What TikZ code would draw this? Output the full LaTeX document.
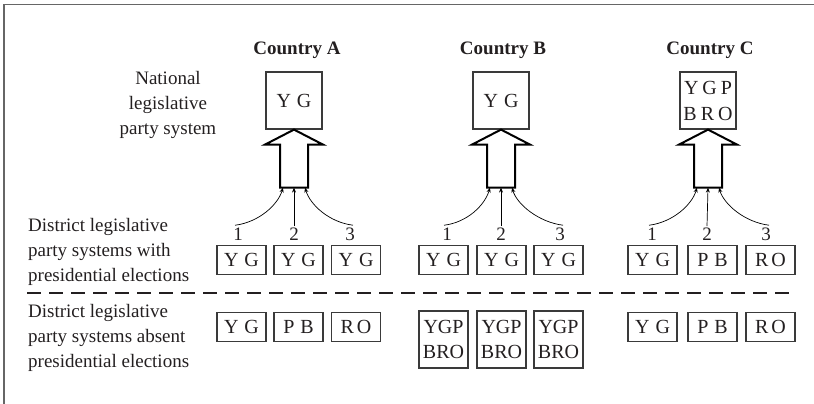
\documentclass[tikz,border=0pt]{standalone}
\usepackage{fontspec}
\setmainfont{Liberation Serif}
\usetikzlibrary{arrows.meta,calc}
\definecolor{ink}{HTML}{231F20}
\definecolor{boxc}{HTML}{3A3A3A}
\definecolor{framec}{HTML}{666666}
\begin{document}
\begin{tikzpicture}[x=1pt,y=-1pt,
  every node/.style={font=\fontsize{19}{25}\selectfont, text=ink},
  pbox/.style={draw=boxc, line width=1.2pt, minimum width=49pt, minimum height=29pt, inner sep=0pt, font=\fontsize{20}{25}\selectfont},
  tallbox/.style={pbox, minimum height=57pt, align=center},
  natbox/.style={draw=boxc, line width=1.2pt, minimum width=56pt, minimum height=57pt, inner sep=0pt, align=center, font=\fontsize{20}{25}\selectfont},
  country/.style={font=\fontsize{19}{25}\selectfont\bfseries},
  sidelbl/.style={align=left, anchor=west, inner sep=0pt},
  num/.style={inner sep=0pt, anchor=base},
  bigarrow/.style={draw=black, line width=2pt, fill=white, line join=miter},
  thinarr/.style={draw=black, line width=0.7pt, -{Stealth[length=5pt,width=4pt]}},
  divider/.style={draw=ink, line width=1.8pt, dash pattern=on 14pt off 8pt}]
\useasboundingbox (0,0) rectangle (814,404);
% frame
\draw[framec, line width=1.3pt] (4,404) -- (4,4.5) -- (814,4.5);

% side labels
\node[align=center, inner sep=0pt] (natlbl) at (168,105) {National\\legislative\\party system};
\node[sidelbl] (withlbl) at (28,252) {District legislative\\party systems with\\presidential elections};
\node[sidelbl] (absentlbl) at (28,338) {District legislative\\party systems absent\\presidential elections};

% countries
\node[country] (cA) at (297,50) {Country A};
\node[country] (cB) at (503,50) {Country B};
\node[country] (cC) at (710,50) {Country C};

% national boxes
\node[natbox] (natA) at (294,100.5) {Y\hspace{0.3em}G};
\node[natbox] (natB) at (501,100.5) {Y\hspace{0.3em}G};
\node[natbox, font=\fontsize{20}{26}\selectfont] (natC) at (708,100.5) {Y\hspace{0.2em}G\hspace{0.2em}P\\B\hspace{0.2em}R\hspace{0.2em}O};

% big arrows
\foreach \n in {A,B,C}{
  \draw[bigarrow] (nat\n.south) -- ++(29,15) -- ++(-15,0) -- ++(0,43) -- ++(-28,0) -- ++(0,-43) -- ++(-15,0) -- cycle;
  \coordinate (\n t1) at ($(nat\n.south)+(-11,58)$);
  \coordinate (\n t2) at ($(nat\n.south)+(0,58)$);
  \coordinate (\n t3) at ($(nat\n.south)+(11,58)$);
}

% district boxes with presidential elections
\node[pbox] (wA1) at (241.5,260) {Y\hspace{0.3em}G};
\node[pbox] (wA2) at (298.5,260) {Y\hspace{0.3em}G};
\node[pbox] (wA3) at (356,260) {Y\hspace{0.3em}G};
\node[pbox] (wB1) at (443.5,260) {Y\hspace{0.3em}G};
\node[pbox] (wB2) at (501.5,260) {Y\hspace{0.3em}G};
\node[pbox] (wB3) at (558.5,260) {Y\hspace{0.3em}G};
\node[pbox] (wC1) at (652.5,260) {Y\hspace{0.3em}G};
\node[pbox] (wC2) at (712.5,260) {P\hspace{0.3em}B};
\node[pbox] (wC3) at (770.5,260) {R\hspace{0.15em}O};

% numbers
\node[num] (nA1) at (238,240) {1};
\node[num] (nA2) at (294,240) {2};
\node[num] (nA3) at (350,240) {3};
\node[num] (nB1) at (447,240) {1};
\node[num] (nB2) at (501,240) {2};
\node[num] (nB3) at (560,240) {3};
\node[num] (nC1) at (652,240) {1};
\node[num] (nC2) at (707,240) {2};
\node[num] (nC3) at (766,240) {3};

% thin arrows
\foreach \n in {A,B,C}{
  \draw[thinarr] ($(n\n1.north)+(-3,-2)$) .. controls +(24,-3) and +(-5,17) .. (\n t1);
  \draw[thinarr] ($(n\n2.north)+(0,-1)$) -- (\n t2);
  \draw[thinarr] ($(n\n3.north)+(3,-2)$) .. controls +(-24,-3) and +(5,17) .. (\n t3);
}

% divider
\coordinate (dl) at (27,293);
\coordinate (dr) at (795,293);
\draw[divider] (dl) -- (dr);

% district boxes absent presidential elections
\node[pbox] (aA1) at (241.5,327) {Y\hspace{0.3em}G};
\node[pbox] (aA2) at (298.5,327) {P\hspace{0.3em}B};
\node[pbox] (aA3) at (356,327) {R\hspace{0.15em}O};
\node[tallbox] (aB1) at (443.5,339.5) {YGP\\BRO};
\node[tallbox] (aB2) at (501.5,339.5) {YGP\\BRO};
\node[tallbox] (aB3) at (558.5,339.5) {YGP\\BRO};
\node[pbox] (aC1) at (652.5,327) {Y\hspace{0.3em}G};
\node[pbox] (aC2) at (712.5,327) {P\hspace{0.3em}B};
\node[pbox] (aC3) at (770.5,327) {R\hspace{0.15em}O};
\end{tikzpicture}
\end{document}
